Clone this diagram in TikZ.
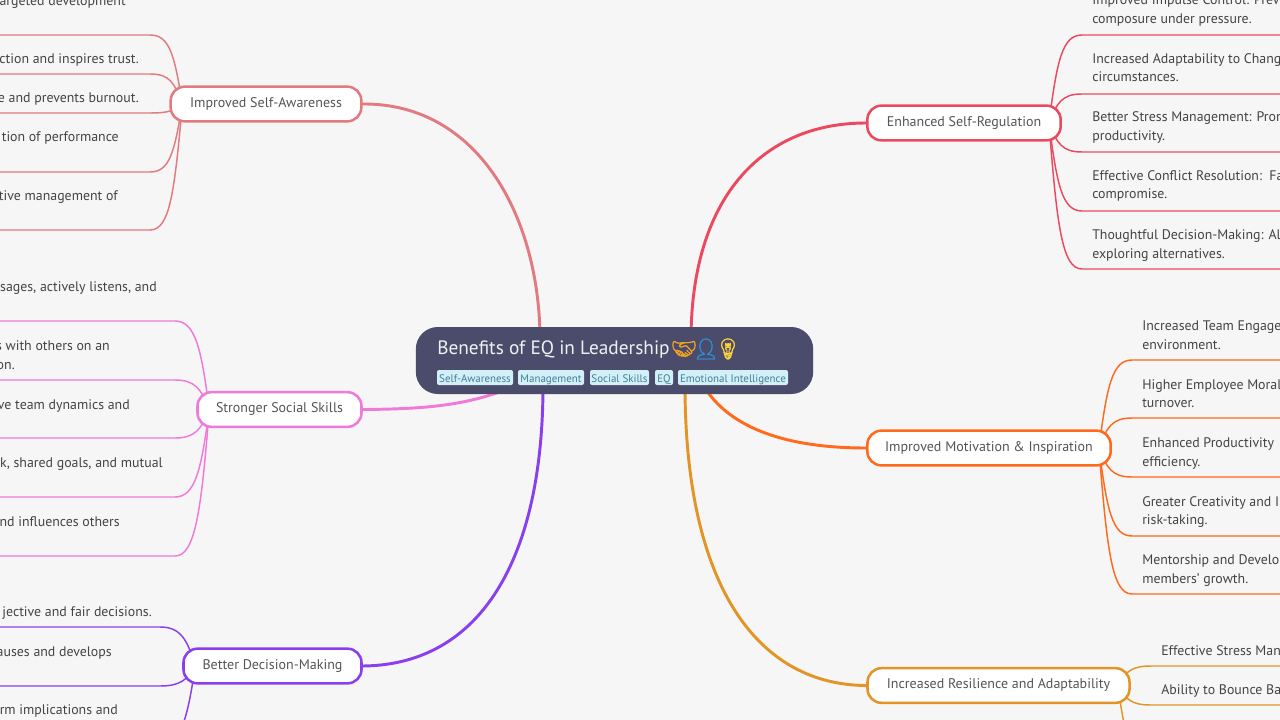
\documentclass[tikz,border=0pt]{standalone}
\usepackage{fontspec}
\setmainfont{PT Sans}
\newfontfamily\emojifont[FakeBold=1.5]{Noto Emoji}
\usetikzlibrary{calc,backgrounds}
\definecolor{bgc}{HTML}{F6F6F6}
\definecolor{mainc}{HTML}{4B4B6B}
\definecolor{tagbg}{HTML}{D3F0F8}
\definecolor{tagtx}{HTML}{3F7F96}
\definecolor{cA}{HTML}{E27B80}
\definecolor{cB}{HTML}{F07AD8}
\definecolor{cC}{HTML}{8A3FEE}
\definecolor{cD}{HTML}{EA4A60}
\definecolor{cE}{HTML}{FF6A1C}
\definecolor{cF}{HTML}{E29426}
\definecolor{leaftx}{HTML}{444444}
\definecolor{branchtx}{HTML}{555555}
\definecolor{emA}{HTML}{F5A623}
\definecolor{emB}{HTML}{2E8FD6}
\definecolor{emC}{HTML}{FFD23F}
\tikzset{
  x=0.75pt,y=-0.75pt,
  rootbox/.style={fill=mainc,draw=none,rounded corners=16.5pt,minimum width=298pt,minimum height=50.25pt,inner sep=0pt},
  branchbox/.style={fill=white,draw=#1,line width=1.9pt,rounded corners=10.5pt,minimum height=26pt,inner sep=0pt,text=branchtx,text height=7.3pt,text depth=2.2pt,font=\fontsize{10.5}{12}\selectfont},
  tagbox/.style={fill=tagbg,rounded corners=1.5pt,minimum height=11.25pt,inner sep=0pt,text=tagtx,text height=8pt,text depth=0.8pt,font=\fontsize{8.2}{10}\selectfont},
  leaftext/.style={text=leaftx,font=\fontsize{10.4}{12}\selectfont,inner sep=0pt},
  emojitext/.style={anchor=center,inner sep=0pt,font=\emojifont\fontsize{15.5}{18}\selectfont,text=#1},
  limb/.style={draw=#1,line width=2.2pt,line cap=round},
  twigline/.style={draw=#1,line width=1.1pt},
}
% branch, leaf name, anchor, sign, y, corner x, far x, colour
\newcommand{\twig}[8]{%
  \coordinate (#2) at (#6,#5);
  \coordinate (#2far) at (#7,#5);
  \coordinate (s) at ($(#1.#3)+({13*#4},0)$);
  \coordinate (m) at ($(s)!.7!(#2)$);
  \coordinate (k) at ($(s)+({-8*#4},0)$);
  \draw[twigline=#8] (s) .. controls (k |- m) and ($(#2)+({20*#4},0)$) .. (#2) -- (#2far);
}
\newcommand{\ltext}[4]{\node[leaftext,anchor=base east] (#1) at (#2,#3+5) {#4};}
\newcommand{\rtext}[4]{\node[leaftext,anchor=base west] (#1) at (#2,#3+5) {#4};}
\newcommand{\bl}[1]{#1\hspace{3.5pt}}
\begin{document}
\begin{tikzpicture}
\useasboundingbox (0,0) rectangle (1280,720);
\begin{pgfonlayer}{background}
\fill[bgc] (0,0) rectangle (1280,720);
\end{pgfonlayer}
\clip (0,0) rectangle (1280,720);
% root
\node[rootbox] (root) at (614.5,360.5) {};
\node[anchor=base west,inner sep=0pt,text=white!92!mainc,font=\fontsize{14.5}{18}\selectfont] (title) at (437,354) {Benefits of EQ in Leadership};
\node[emojitext=emA] (em1) at (684,349) {🤝};
\node[emojitext=emB] (em2) at (706,349) {👤};
\node[emojitext=emC] (em3) at (728,349) {💡};
\node[tagbox,minimum width=57pt] (tag1) at (475,377.5) {Self-Awareness};
\node[tagbox,minimum width=49.5pt] (tag2) at (551,377.5) {Management};
\node[tagbox,minimum width=44.25pt] (tag3) at (619.5,377.5) {Social Skills};
\node[tagbox,minimum width=13.5pt] (tag4) at (664,377.5) {EQ};
\node[tagbox,minimum width=82.5pt] (tag5) at (733,377.5) {Emotional Intelligence};
% branches
\node[branchbox=cA,minimum width=143pt] (A) at (266,104) {\bl{Improved Self-Awareness}};
\node[branchbox=cB,minimum width=123pt] (B) at (279.5,409.5) {\bl{Stronger Social Skills}};
\node[branchbox=cC,minimum width=133.5pt] (C) at (272.5,666) {\bl{Better Decision-Making}};
\node[branchbox=cD,minimum width=145pt] (D) at (964,123) {\bl{Enhanced Self-Regulation}};
\node[branchbox=cE,minimum width=182.5pt] (E) at (989,448) {\bl{Improved Motivation \& Inspiration}};
\node[branchbox=cF,minimum width=196.5pt] (F) at (998.5,685.5) {\bl{Increased Resilience and Adaptability}};
% left texts
\ltext{ta0}{126}{1}{argeted development}
\ltext{ta1}{139}{59}{ction and inspires trust.}
\ltext{ta2}{139}{98}{e and prevents burnout.}
\ltext{ta3}{119}{137}{tion of performance}
\ltext{ta4}{118}{196}{tive management of}
\ltext{tb0}{157}{286}{sages, actively listens, and}
\ltext{tb1}{110}{345}{s with others on an}
\ltext{tb1x}{15}{364}{on.}
\ltext{tb2}{130}{404}{ve team dynamics and}
\ltext{tb3}{163}{462}{k, shared goals, and mutual}
\ltext{tb4}{120}{521}{nd influences others}
\ltext{tc0}{152}{611}{jective and fair decisions.}
\ltext{tc1}{112}{651}{auses and develops}
\ltext{tc2}{118}{709}{rm implications and}
% right texts
\rtext{td0}{1092}{0}{Improved Impulse Control: Prev}
\rtext{td0x}{1092}{19}{composure under pressure.}
\rtext{td1}{1092}{59}{Increased Adaptability to Chang}
\rtext{td1x}{1092}{77}{circumstances.}
\rtext{td2}{1092}{117}{Better Stress Management: Pron}
\rtext{td2x}{1092}{136}{productivity.}
\rtext{td3}{1092}{176}{Effective Conflict Resolution:\ \ Fa}
\rtext{td3x}{1092}{194}{compromise.}
\rtext{td4}{1092}{234}{Thoughtful Decision-Making: Al}
\rtext{td4x}{1092}{253}{exploring alternatives.}
\rtext{te0}{1142}{325}{Increased Team Engage}
\rtext{te0x}{1142}{344}{environment.}
\rtext{te1}{1142}{384}{Higher Employee Moral}
\rtext{te1x}{1142}{402}{turnover.}
\rtext{te2}{1142}{442}{Enhanced Productivity}
\rtext{te2x}{1142}{461}{efficiency.}
\rtext{te3}{1142}{501}{Greater Creativity and I}
\rtext{te3x}{1142}{519}{risk-taking.}
\rtext{te4}{1142}{559}{Mentorship and Develo}
\rtext{te4x}{1142}{578}{members' growth.}
\rtext{tf0}{1161}{650}{Effective Stress Man}
\rtext{tf1}{1161}{689}{Ability to Bounce Ba}
% connectors
\coordinate (hubA) at (540,340);
\coordinate (hubB) at (518,385);
\coordinate (hubC) at (543,385);
\coordinate (hubD) at (691,340);
\coordinate (hubE) at (703,385);
\coordinate (hubF) at (685,385);
\begin{pgfonlayer}{background}
\clip (0,0) rectangle (1280,720);
\draw[limb=cA] (A.east) .. controls (480,103) and (540,220) .. (hubA);
\draw[limb=cB] (B.east) .. controls (430,409) and (470,405) .. (hubB);
\draw[limb=cC] (C.east) .. controls (480,665) and (543,560) .. (hubC);
\draw[limb=cD] (D.west) .. controls (760,123) and (691,200) .. (hubD);
\draw[limb=cE] (E.west) .. controls (790,448) and (730,430) .. (hubE);
\draw[limb=cF] (F.west) .. controls (760,685) and (685,590) .. (hubF);
\twig{A}{la1}{west}{1}{35}{150}{-5}{cA}
\twig{A}{la2}{west}{1}{74}{150}{-5}{cA}
\twig{A}{la3}{west}{1}{113}{150}{-5}{cA}
\twig{A}{la4}{west}{1}{172}{150}{-5}{cA}
\twig{A}{la5}{west}{1}{230}{150}{-5}{cA}
\twig{B}{lb1}{west}{1}{321}{175}{-5}{cB}
\twig{B}{lb2}{west}{1}{380}{175}{-5}{cB}
\twig{B}{lb3}{west}{1}{438}{175}{-5}{cB}
\twig{B}{lb4}{west}{1}{497}{175}{-5}{cB}
\twig{B}{lb5}{west}{1}{556}{175}{-5}{cB}
\twig{C}{lc1}{west}{1}{627}{160}{-5}{cC}
\twig{C}{lc2}{west}{1}{686}{160}{-5}{cC}
\twig{C}{lc3}{west}{1}{745}{160}{-5}{cC}
\twig{D}{ld1}{east}{-1}{35}{1082}{1285}{cD}
\twig{D}{ld2}{east}{-1}{94}{1082}{1285}{cD}
\twig{D}{ld3}{east}{-1}{152}{1082}{1285}{cD}
\twig{D}{ld4}{east}{-1}{211}{1082}{1285}{cD}
\twig{D}{ld5}{east}{-1}{269}{1082}{1285}{cD}
\twig{E}{le1}{east}{-1}{360}{1132}{1285}{cE}
\twig{E}{le2}{east}{-1}{418}{1132}{1285}{cE}
\twig{E}{le3}{east}{-1}{477}{1132}{1285}{cE}
\twig{E}{le4}{east}{-1}{536}{1132}{1285}{cE}
\twig{E}{le5}{east}{-1}{594}{1132}{1285}{cE}
\twig{F}{lf1}{east}{-1}{666}{1151}{1285}{cF}
\twig{F}{lf2}{east}{-1}{705}{1151}{1285}{cF}
\twig{F}{lf3}{east}{-1}{764}{1151}{1285}{cF}
\end{pgfonlayer}
\end{tikzpicture}
\end{document}
